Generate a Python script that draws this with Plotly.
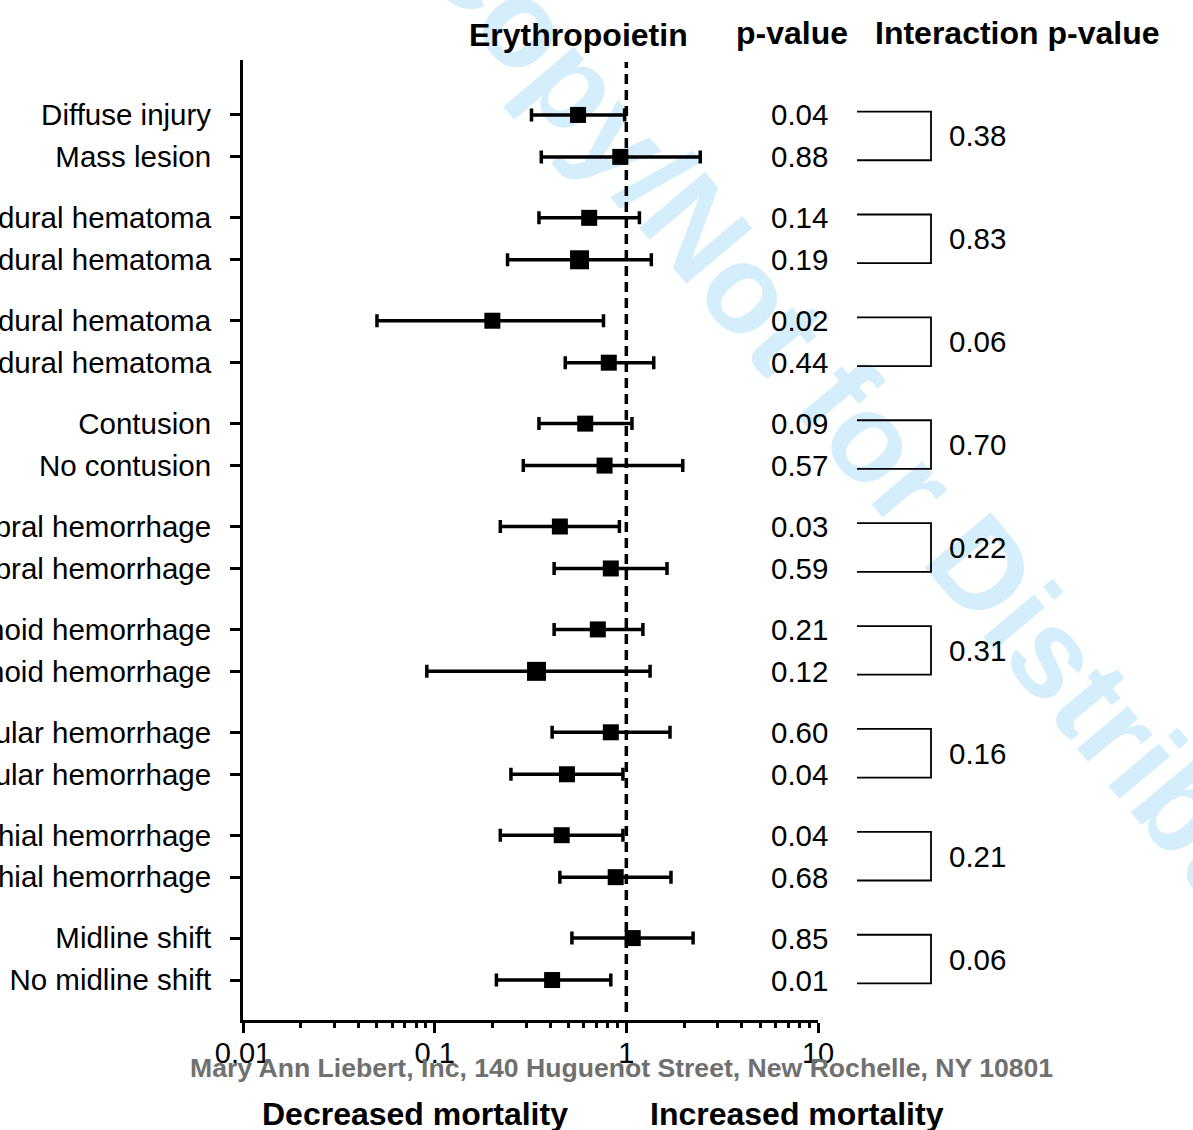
import plotly.graph_objects as go

# ---------------- data ----------------
labels = [
    "Diffuse injury", "Mass lesion",
    "Epidural hematoma", "No epidural hematoma",
    "Subdural hematoma", "No subdural hematoma",
    "Contusion", "No contusion",
    "Intracerebral hemorrhage", "No intracerebral hemorrhage",
    "Subarachnoid hemorrhage", "No subarachnoid hemorrhage",
    "Intraventricular hemorrhage", "No intraventricular hemorrhage",
    "Petechial hemorrhage", "No petechial hemorrhage",
    "Midline shift", "No midline shift",
]
odds_ratio = [0.56, 0.93, 0.64, 0.57, 0.20, 0.81, 0.61, 0.77, 0.45,
              0.83, 0.71, 0.34, 0.83, 0.49, 0.46, 0.88, 1.08, 0.41]
ci_lower = [0.32, 0.36, 0.35, 0.24, 0.050, 0.48, 0.35, 0.29, 0.22,
            0.42, 0.42, 0.091, 0.41, 0.25, 0.22, 0.45, 0.52, 0.21]
ci_upper = [0.98, 2.43, 1.17, 1.35, 0.76, 1.39, 1.07, 1.97, 0.92,
            1.63, 1.22, 1.33, 1.69, 0.96, 0.96, 1.71, 2.23, 0.83]
p_values = ["0.04", "0.88", "0.14", "0.19", "0.02", "0.44", "0.09", "0.57", "0.03",
            "0.59", "0.21", "0.12", "0.60", "0.04", "0.04", "0.68", "0.85", "0.01"]
interaction_p = ["0.38", "0.83", "0.06", "0.70", "0.22", "0.31", "0.16", "0.21", "0.06"]
x_tick_vals = [0.01, 0.1, 1, 10]
x_tick_text = ["0.01", "0.1", "1", "10"]

# ---------------- layout helpers ----------------
FONT = "Arial, Liberation Sans, sans-serif"
GROUP_STEP = 103 / 42          # spacing between groups, in row units
pos = [(i // 2) * GROUP_STEP + (i % 2) for i in range(len(labels))]
big = {3, 11}
sizes = [19 if i in big else 16 for i in range(len(labels))]

minor_vals = [m * 10 ** e for e in (-2, -1, 0) for m in range(2, 10)]

fig = go.Figure()
fig.add_trace(go.Scatter(
    x=odds_ratio, y=pos, mode="markers",
    marker=dict(symbol="square", size=sizes, color="black", opacity=1,
                line=dict(width=0)),
    error_x=dict(type="data", symmetric=False,
                 array=[u - o for u, o in zip(ci_upper, odds_ratio)],
                 arrayminus=[o - l for o, l in zip(odds_ratio, ci_lower)],
                 thickness=3.5, width=6.5, color="black"),
    showlegend=False, hoverinfo="skip",
))

W, H = 1193, 1130
L, R, T, B = 243, 375, 60, 110
pw, ph = W - L - R, H - T - B


def px_x(p):
    return (p - L) / pw


def px_y(p):
    return (H - B - p) / ph


shapes = []
# watermark (below everything)
shapes.append(dict(
    type="line", xref="paper", yref="paper",
    x0=px_x(453), y0=px_y(-80), x1=px_x(1413), y1=px_y(1062),
    line=dict(width=0, color="rgba(0,0,0,0)"), layer="below",
    label=dict(text="Copy/Not for Distribution", textposition="middle",
               yanchor="middle",
               font=dict(family=FONT, size=125, color="rgb(212,238,251)", weight="bold")),
))
# reference line at 1
shapes.append(dict(
    type="line", xref="x", yref="paper", x0=1, x1=1, y0=px_y(1012), y1=px_y(62),
    line=dict(color="black", width=3.5, dash="10px,6px"), layer="above",
))
# brackets
bx0, bx1 = px_x(857), px_x(931)
for g in range(len(interaction_p)):
    ya = pos[2 * g] - 0.08
    yb = pos[2 * g + 1] + 0.08
    shapes.append(dict(type="path", xref="paper", yref="y",
                       path=f"M {bx0},{ya} L {bx1},{ya} L {bx1},{yb} L {bx0},{yb}",
                       line=dict(color="black", width=1.8)))

annotations = []
for i, p in enumerate(p_values):
    annotations.append(dict(x=px_x(799), y=pos[i], xref="paper", yref="y", text=p,
                            showarrow=False, xanchor="center", yanchor="middle",
                            font=dict(family=FONT, size=29.5, color="black")))
for g, p in enumerate(interaction_p):
    annotations.append(dict(x=px_x(947), y=(pos[2 * g] + pos[2 * g + 1]) / 2,
                            xref="paper", yref="y", text=p, showarrow=False,
                            xanchor="left", yanchor="middle",
                            font=dict(family=FONT, size=29.5, color="black")))

header_font = dict(family=FONT, size=32, color="black", weight="bold")
for txt, cx, cy in [("Erythropoietin", 578, 35), ("p-value", 792, 33),
                    ("Interaction p-value", 1017, 33),
                    ("Decreased mortality", 415, 1114), ("Increased mortality", 797, 1114)]:
    annotations.append(dict(x=px_x(cx), y=px_y(cy), xref="paper", yref="paper", text=txt,
                            showarrow=False, xanchor="center", yanchor="middle",
                            font=header_font))
annotations.append(dict(x=px_x(621), y=px_y(1068), xref="paper", yref="paper",
                        text="Mary Ann Liebert, Inc, 140 Huguenot Street, New Rochelle, NY 10801",
                        showarrow=False, xanchor="center", yanchor="middle",
                        font=dict(family=FONT, size=26.6, color="#707070", weight="bold")))

fig.update_layout(
    width=W, height=H, margin=dict(l=L, r=R, t=T, b=B, autoexpand=False),
    paper_bgcolor="white", plot_bgcolor="rgba(0,0,0,0)",
    shapes=shapes, annotations=annotations, showlegend=False,
    xaxis=dict(type="log", range=[-2, 1], tickvals=x_tick_vals, ticktext=x_tick_text,
               ticks="outside", ticklen=10, tickwidth=3, tickcolor="black",
               showline=True, linewidth=3, linecolor="black",
               showgrid=False, zeroline=False, ticklabelstandoff=-5,
               tickfont=dict(family=FONT, size=29, color="black"),
               minor=dict(tickvals=minor_vals, ticks="outside", ticklen=5, tickwidth=2.5,
                          tickcolor="black", showgrid=False),
               fixedrange=True),
    yaxis=dict(range=[906 / 42, -55 / 42], tickvals=pos, ticktext=labels,
               ticks="outside", ticklen=10, tickwidth=3, tickcolor="black",
               showline=True, linewidth=3, linecolor="black",
               showgrid=False, zeroline=False, ticklabelstandoff=13, automargin=False,
               tickfont=dict(family=FONT, size=29.5, color="black"),
               fixedrange=True),
)

fig.write_html(
    "out.html",
    config={"displayModeBar": False},
    post_script="document.body.style.margin='0';document.body.style.overflow='hidden';",
)
